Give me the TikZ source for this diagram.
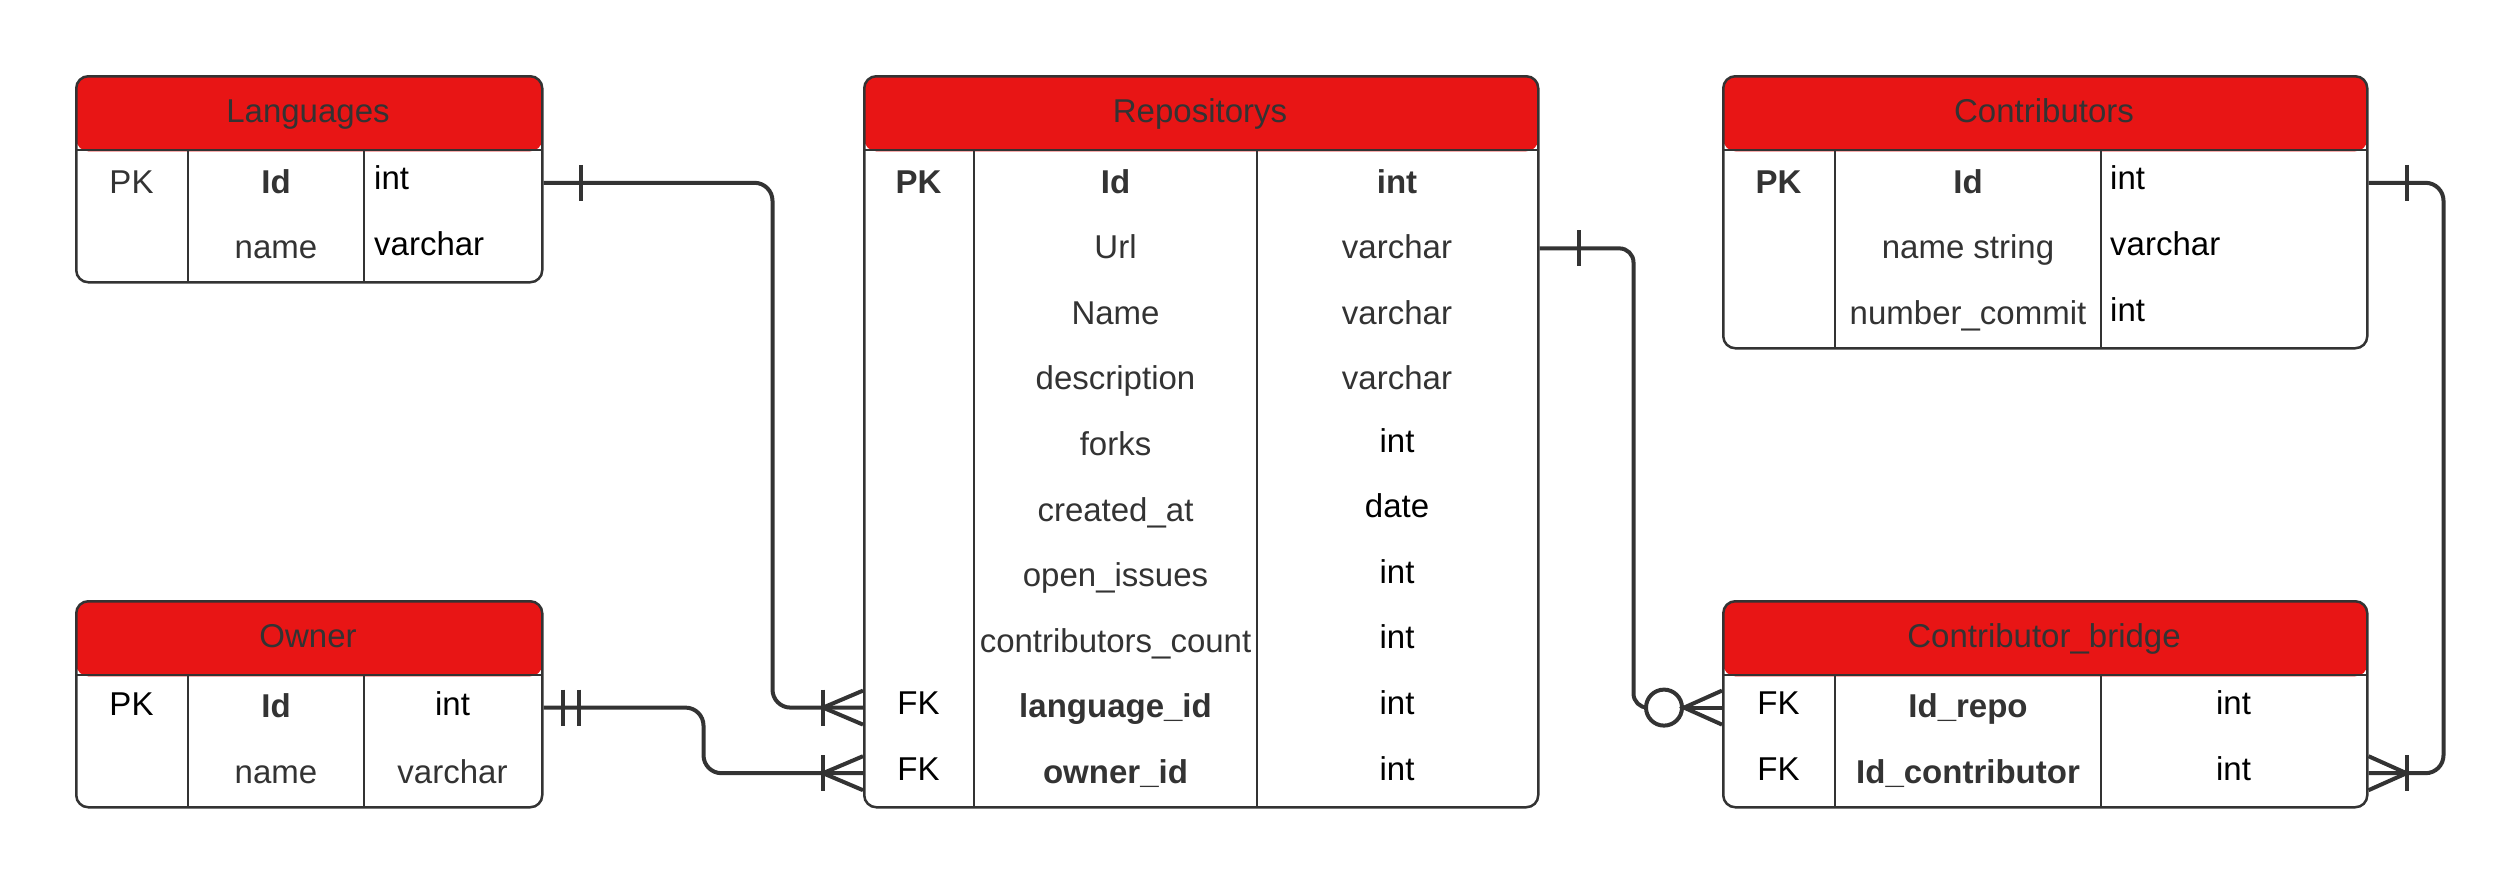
\documentclass[tikz,border=0pt]{standalone}
\usepackage{fontspec}
\setmainfont{Liberation Sans}
\usetikzlibrary{calc}
\definecolor{hred}{HTML}{E81515}
\definecolor{ink}{HTML}{333333}
\begin{document}
\begin{tikzpicture}[x=1pt,y=-1pt,
  tbl/.style={draw=ink, line width=2.5pt, rounded corners=12pt, fill=white, inner sep=0pt, anchor=north west,
    path picture={\fill[hred] (path picture bounding box.north west) rectangle ($(path picture bounding box.north east)+(0,75)$);}},
  sep/.style={draw=ink, line width=2.5pt},
  txt/.style={inner sep=0pt, text height=23.6pt, text depth=0pt, font=\fontsize{33}{40}\selectfont, text=ink, yshift=1.5pt},
  bt/.style={txt, font=\fontsize{33}{40}\selectfont\bfseries},
  blk/.style={txt, text=black},
  blkup/.style={blk, yshift=3.5pt},
  link/.style={draw=ink, line width=4pt, rounded corners=18pt},
  ermk/.style={draw=ink, line width=4pt}
]
\useasboundingbox (0,0) rectangle (2516,881);

% ---------- Languages ----------
\node[tbl, minimum width=466pt, minimum height=206pt] (lang) at (75,75) {};
\draw[sep] (75,150) -- (541,150) (188,150) -- (188,281) (364,150) -- (364,281);
\node[txt] (lang-h) at (308,112.5) {Languages};
\node[txt] (lang-pk) at (131.5,182.8) {PK};
\node[bt] (lang-id) at (276,182.8) {Id};
\node[blk, anchor=west] (lang-idt) at (374,179) {int};
\node[txt] (lang-name) at (276,248.4) {name};
\node[blk, anchor=west] (lang-namet) at (374,245) {varchar};

% ---------- Owner ----------
\node[tbl, minimum width=466pt, minimum height=206pt] (owner) at (75,600) {};
\draw[sep] (75,675) -- (541,675) (188,675) -- (188,806) (364,675) -- (364,806);
\node[txt] (owner-h) at (308,637.5) {Owner};
\node[blk] (owner-pk) at (131.5,705) {PK};
\node[bt] (owner-id) at (276,707.6) {Id};
\node[blk] (owner-idt) at (452.5,705) {int};
\node[txt] (owner-name) at (276,773.2) {name};
\node[txt] (owner-namet) at (452.5,773.2) {varchar};

% ---------- Repositorys ----------
\node[tbl, minimum width=674pt, minimum height=731pt] (repo) at (863,75) {};
\draw[sep] (863,150) -- (1537,150) (974,150) -- (974,806) (1257,150) -- (1257,806);
\node[txt] (repo-h) at (1200,112.5) {Repositorys};
\node[bt] (repo-pk) at (918.5,182.8) {PK};
\node[bt] (repo-id) at (1115.5,182.8) {Id};
\node[bt] (repo-idt) at (1397,182.8) {int};
\node[txt] (repo-url) at (1115.5,248.4) {Url};
\node[txt] (repo-urlt) at (1397,248.4) {varchar};
\node[txt] (repo-name) at (1115.5,314) {Name};
\node[txt] (repo-namet) at (1397,314) {varchar};
\node[txt] (repo-desc) at (1115.5,379.6) {description};
\node[txt] (repo-desct) at (1397,379.6) {varchar};
\node[txt] (repo-forks) at (1115.5,445.2) {forks};
\node[blkup] (repo-forkst) at (1397,445.2) {int};
\node[txt] (repo-cre) at (1115.5,510.8) {created\_at};
\node[blkup] (repo-cret) at (1397,510.8) {date};
\node[txt] (repo-open) at (1115.5,576.4) {open\_issues};
\node[blkup] (repo-opent) at (1397,576.4) {int};
\node[txt] (repo-cc) at (1115.5,642) {contributors\_count};
\node[blkup] (repo-cct) at (1397,642) {int};
\node[blkup] (repo-fk1) at (918.5,707.6) {FK};
\node[bt] (repo-lid) at (1115.5,707.6) {language\_id};
\node[blkup] (repo-lidt) at (1397,707.6) {int};
\node[blkup] (repo-fk2) at (918.5,773.2) {FK};
\node[bt] (repo-oid) at (1115.5,773.2) {owner\_id};
\node[blkup] (repo-oidt) at (1397,773.2) {int};

% ---------- Contributors ----------
\node[tbl, minimum width=644pt, minimum height=272pt] (contr) at (1722,75) {};
\draw[sep] (1722,150) -- (2366,150) (1835,150) -- (1835,347) (2101,150) -- (2101,347);
\node[txt] (contr-h) at (2044,112.5) {Contributors};
\node[bt] (contr-pk) at (1778.5,182.8) {PK};
\node[bt] (contr-id) at (1968,182.8) {Id};
\node[blk, anchor=west] (contr-idt) at (2110,179) {int};
\node[txt] (contr-name) at (1968,248.4) {name string};
\node[blk, anchor=west] (contr-namet) at (2110,245) {varchar};
\node[txt] (contr-num) at (1968,314) {number\_commit};
\node[blk, anchor=west] (contr-numt) at (2110,311) {int};

% ---------- Contributor_bridge ----------
\node[tbl, minimum width=644pt, minimum height=206pt] (bridge) at (1722,600) {};
\draw[sep] (1722,675) -- (2366,675) (1835,675) -- (1835,806) (2101,675) -- (2101,806);
\node[txt] (bridge-h) at (2044,637.5) {Contributor\_bridge};
\node[blkup] (bridge-fk1) at (1778.5,707.6) {FK};
\node[bt] (bridge-rid) at (1968,707.6) {Id\_repo};
\node[blkup] (bridge-ridt) at (2233.5,707.6) {int};
\node[blkup] (bridge-fk2) at (1778.5,773.2) {FK};
\node[bt] (bridge-cid) at (1968,773.2) {Id\_contributor};
\node[blkup] (bridge-cidt) at (2233.5,773.2) {int};

% ---------- Connectors ----------
% Languages -> Repositorys (one to one-or-many)
\coordinate (a1) at ([yshift=-1.5pt]lang.east |- lang-id);
\coordinate (a2) at ([yshift=-1.5pt]repo.west |- repo-lid);
\draw[link] (a1) -- ++(229,0) |- (a2);
\draw[ermk] ($(a1)+(37,-18)$) -- ($(a1)+(37,18)$);
\draw[ermk] ($(a2)+(-40,-18)$) -- ($(a2)+(-40,18)$);
\draw[ermk] ($(a2)+(0,-17)$) -- ($(a2)+(-40,0)$) -- ($(a2)+(0,17)$);

% Owner -> Repositorys (exactly one to one-or-many)
\coordinate (b1) at ([yshift=-1.5pt]owner.east |- owner-id);
\coordinate (b2) at ([yshift=-1.5pt]repo.west |- repo-oid);
\draw[link] (b1) -- ++(160,0) |- (b2);
\draw[ermk] ($(b1)+(19,-18)$) -- ($(b1)+(19,18)$);
\draw[ermk] ($(b1)+(35,-18)$) -- ($(b1)+(35,18)$);
\draw[ermk] ($(b2)+(-40,-18)$) -- ($(b2)+(-40,18)$);
\draw[ermk] ($(b2)+(0,-17)$) -- ($(b2)+(-40,0)$) -- ($(b2)+(0,17)$);

% Repositorys -> Contributor_bridge (one to zero-or-many)
\coordinate (c1) at ([yshift=-1.5pt]repo.east |- repo-url);
\coordinate (c2) at ([yshift=-1.5pt]bridge.west |- bridge-rid);
\coordinate (c3) at ($(c2)+(-58,0)$);
\draw[link, rounded corners=14pt] (c1) -- ++(94,0) |- ($(c3)+(-18,0)$);
\draw[ermk] ($(c1)+(39,-18)$) -- ($(c1)+(39,18)$);
\draw[ermk] (c3) circle (18pt);
\draw[ermk] ($(c2)+(0,-17)$) -- ($(c2)+(-38,0)$) -- ($(c2)+(0,17)$);
\draw[ermk] ($(c2)+(-38,0)$) -- (c2);

% Contributors -> Contributor_bridge (one to one-or-many)
\coordinate (d1) at ([yshift=-1.5pt]contr.east |- contr-id);
\coordinate (d2) at ([yshift=-1.5pt]bridge.east |- bridge-cid);
\draw[link] (d1) -- ++(75,0) |- (d2);
\draw[ermk] ($(d1)+(38,-18)$) -- ($(d1)+(38,18)$);
\draw[ermk] ($(d2)+(38,-18)$) -- ($(d2)+(38,18)$);
\draw[ermk] ($(d2)+(0,-17)$) -- ($(d2)+(38,0)$) -- ($(d2)+(0,17)$);
\end{tikzpicture}
\end{document}
